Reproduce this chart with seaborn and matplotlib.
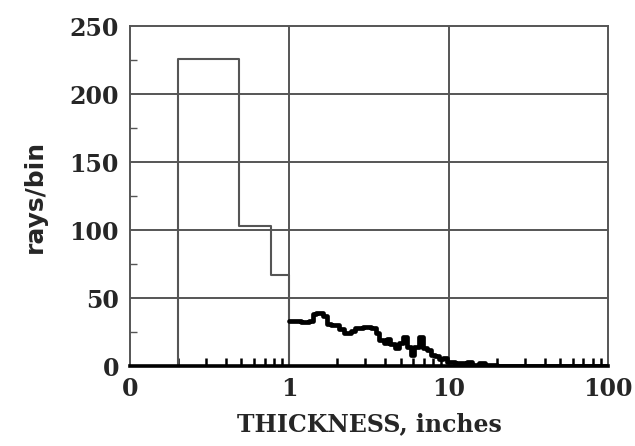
import matplotlib
matplotlib.use("Agg")
import matplotlib.pyplot as plt
import seaborn as sns
import numpy as np
import pandas as pd
from matplotlib.ticker import FixedLocator, NullFormatter

# Coarse bins (thin grey steps)
coarse_x = [0.2, 0.2, 0.48, 0.77, 1.0, 1.0]
coarse_y = [0, 226, 103, 67, 67, 0]

# Fine bins after 1 inch (thick black steps)
fine_x = [1.0, 1.18, 1.32, 1.40, 1.46, 1.62, 1.72, 1.82, 2.05, 2.2, 2.3, 2.45,
          2.6, 2.9, 3.25, 3.5, 3.65, 3.9, 4.1, 4.3, 4.6, 4.9, 5.2, 5.5, 5.8,
          6.1, 6.5, 6.9, 7.3, 7.8, 8.2, 8.7, 9.2, 9.8, 10.4, 11.0, 12.0, 13.0,
          14.0, 15.5, 17.0, 18.5, 20.0, 100.0]
fine_y = [33, 32, 33, 38, 39, 37, 31, 30, 27, 24, 24, 26,
          28, 29, 28, 24, 19, 17, 20, 16, 13, 17, 21, 14, 8,
          14, 21, 13, 12, 8, 7, 5, 6, 3, 3, 2, 2, 3,
          1, 2, 1, 1, 0, 0]

x_ticks = [0.1, 1, 10, 100]
x_labels = ["0", "1", "10", "100"]
y_ticks = [0, 50, 100, 150, 200, 250]

sns.set_style("white")
plt.rcParams['font.family'] = ['DejaVu Serif']

fig = plt.figure(figsize=(6.35, 4.46), dpi=100)
ax = fig.add_axes([130/635, 80/446, 478/635, 340/446])

grid_c = "#555555"
ax.set_xscale("log")
ax.set_xlim(0.1, 100)
ax.set_ylim(0, 250)

for yv in y_ticks[1:-1]:
    ax.axhline(yv, color=grid_c, lw=1.4, zorder=1)
for xv in [1, 10]:
    ax.axvline(xv, color=grid_c, lw=1.4, zorder=1)

df_c = pd.DataFrame({"x": coarse_x, "y": coarse_y})
df_f = pd.DataFrame({"x": fine_x, "y": fine_y})
sns.lineplot(data=df_c, x="x", y="y", ax=ax, estimator=None, sort=False,
             drawstyle="steps-post", color="#555555", lw=1.5, zorder=2)
sns.lineplot(data=df_f, x="x", y="y", ax=ax, estimator=None, sort=False,
             drawstyle="steps-post", color="black", lw=3.4, zorder=3,
             solid_joinstyle="round", solid_capstyle="round")
ax.set_xlim(0.1, 100)
ax.set_ylim(0, 250)

ax.xaxis.set_major_locator(FixedLocator(x_ticks))
ax.set_xticklabels(x_labels)
minor = [m * d for d in [0.1, 1, 10] for m in range(2, 10)]
ax.xaxis.set_minor_locator(FixedLocator(minor))
ax.xaxis.set_minor_formatter(NullFormatter())
ax.yaxis.set_major_locator(FixedLocator(y_ticks))
ax.yaxis.set_minor_locator(FixedLocator([25, 75, 125, 175, 225]))
ax.yaxis.set_minor_formatter(NullFormatter())

ax.tick_params(axis="both", which="both", bottom=True, left=True, top=False, right=False)
ax.tick_params(axis="both", which="major", length=0, labelsize=17, pad=8)
ax.tick_params(axis="x", which="minor", direction="in", length=6, width=1.8, color="black")
ax.tick_params(axis="y", which="minor", direction="in", length=5, width=1.0, color=grid_c)
for lab in ax.get_xticklabels() + ax.get_yticklabels():
    lab.set_fontweight("bold")

for s in ["top", "right", "left"]:
    ax.spines[s].set_color(grid_c)
    ax.spines[s].set_linewidth(1.4)
ax.spines["bottom"].set_color("black")
ax.spines["bottom"].set_linewidth(2.6)
ax.spines["bottom"].set_zorder(4)

ax.set_xlabel("THICKNESS, inches", fontsize=17, fontweight="bold", labelpad=8)
ax.set_ylabel("rays/bin", fontsize=18, fontweight="bold", labelpad=16, family="DejaVu Sans")

fig.savefig("out.png", dpi=100)
